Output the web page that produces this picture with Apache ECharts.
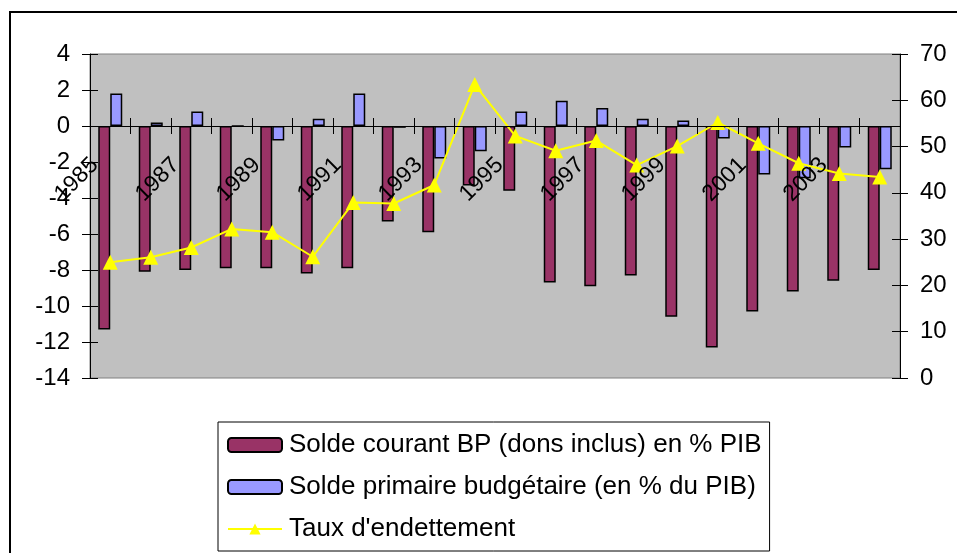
<!DOCTYPE html>
<html>
<head>
<meta charset="utf-8">
<title>Solde courant, solde primaire et taux d'endettement</title>
<script src="https://cdn.jsdelivr.net/npm/echarts@6/dist/echarts.min.js"></script>
<style>
  html, body { margin: 0; padding: 0; background: #fff; }
  #main { width: 957px; height: 553px; }
</style>
</head>
<body>
<div id="main"></div>
<script>
let years = ["1985", "1986", "1987", "1988", "1989", "1990", "1991", "1992", "1993", "1994",
  "1995", "1996", "1997", "1998", "1999", "2000", "2001", "2002", "2003", "2004"];
let soldeCourant = [-11.3, -8.1, -8.0, -7.9, -7.9, -8.2, -7.9, -5.3, -5.9, -3.3,
  -3.6, -8.7, -8.9, -8.3, -10.6, -12.3, -10.3, -9.2, -8.6, -8.0];
let soldePrimaire = [1.8, 0.2, 0.8, 0, -0.8, 0.4, 1.8, -0.1, -1.8, -1.4,
  0.8, 1.4, 1.0, 0.4, 0.3, -0.7, -2.7, -2.9, -1.2, -2.4];
let tauxEndettement = [25.0, 26.1, 28.2, 32.2, 31.5, 26.2, 37.9, 37.7, 41.7, 63.4,
  52.3, 49.1, 51.3, 46.0, 50.1, 55.2, 50.7, 46.4, 44.2, 43.4];
let seriesNames = ["Solde courant BP (dons inclus) en % PIB", "Solde primaire budgétaire (en % du PIB)", "Taux d'endettement"];

let font = "'Liberation Sans', Arial, sans-serif";
let chart = echarts.init(document.getElementById("main"));

// ticks cross the axis line, so each axis gets a twin that draws the other half
function tickAxis(position, inside) {
  return {
    axisLine: { show: false },
    axisTick: { show: true, inside: inside, length: 8, lineStyle: { color: "#000" } },
    axisLabel: { show: false },
    splitLine: { show: false },
    position: position
  };
}

let option = {
  animation: false,
  textStyle: { fontFamily: font, color: "#000" },
  graphic: [
    {
      type: "rect",
      shape: { x: 10, y: 12, width: 1000, height: 600 },
      style: { fill: "none", stroke: "#000", lineWidth: 2 },
      silent: true
    }
  ],
  grid: {
    left: 90,
    right: 57,
    top: 54,
    bottom: 175,
    show: true,
    backgroundColor: "#C0C0C0",
    borderColor: "#808080",
    borderWidth: 1
  },
  legend: {
    orient: "vertical",
    left: 218,
    top: 422,
    padding: [10, 8, 9, 9],
    itemGap: 16,
    itemWidth: 54,
    itemHeight: 14,
    borderColor: "#000",
    borderWidth: 1,
    data: seriesNames,
    textStyle: { fontSize: 26, fontFamily: font, color: "#000", padding: [0, 0, 0, 2] }
  },
  xAxis: [
    {
      // year labels sit just under the zero line, over the bars
      type: "category",
      data: years,
      z: 10,
      axisLine: { show: false, onZero: false },
      axisTick: { show: false },
      axisLabel: {
        interval: 1,
        rotate: 45,
        fontSize: 23,
        fontFamily: font,
        color: "#000",
        margin: -232,
        padding: [0, 22, 0, 0]
      },
      splitLine: { show: false }
    },
    {
      type: "category",
      data: years,
      position: "top",
      z: 10,
      axisLine: { onZero: true, onZeroAxisIndex: 0, show: true, lineStyle: { color: "#000" } },
      axisTick: { show: true, interval: 0, length: 8, lineStyle: { color: "#000" } },
      axisLabel: { show: false },
      splitLine: { show: false }
    },
    {
      type: "category",
      data: years,
      position: "bottom",
      z: 10,
      axisLine: { onZero: true, onZeroAxisIndex: 0, show: true, lineStyle: { color: "#000" } },
      axisTick: { show: true, interval: 0, length: 8, lineStyle: { color: "#000" } },
      axisLabel: { show: false },
      splitLine: { show: false }
    }
  ],
  yAxis: [
    {
      type: "value",
      min: -14,
      max: 4,
      interval: 2,
      position: "left",
      axisLine: { show: true, lineStyle: { color: "#000" } },
      axisTick: { show: true, length: 8, lineStyle: { color: "#000" } },
      axisLabel: { fontSize: 24, fontFamily: font, color: "#000", margin: 20 },
      splitLine: { show: false }
    },
    {
      type: "value",
      min: 0,
      max: 70,
      interval: 10,
      position: "right",
      axisLine: { show: true, lineStyle: { color: "#000" } },
      axisTick: { show: true, length: 8, lineStyle: { color: "#000" } },
      axisLabel: { fontSize: 24, fontFamily: font, color: "#000", margin: 20 },
      splitLine: { show: false }
    },
    Object.assign({ type: "value", min: -14, max: 4, interval: 2 }, tickAxis("left", true)),
    Object.assign({ type: "value", min: 0, max: 70, interval: 10 }, tickAxis("right", true))
  ],
  series: [
    {
      name: seriesNames[0],
      type: "bar",
      xAxisIndex: 0,
      yAxisIndex: 0,
      barWidth: 12,
      barGap: "0%",
      itemStyle: { color: "#993366", borderColor: "#000", borderWidth: 1.5 },
      data: soldeCourant
    },
    {
      name: seriesNames[1],
      type: "bar",
      xAxisIndex: 0,
      yAxisIndex: 0,
      barWidth: 12,
      barGap: "0%",
      itemStyle: { color: "#9999FF", borderColor: "#000", borderWidth: 1.5 },
      data: soldePrimaire
    },
    {
      name: seriesNames[2],
      type: "line",
      xAxisIndex: 0,
      yAxisIndex: 1,
      z: 5,
      symbol: "triangle",
      symbolSize: 15,
      lineStyle: { color: "#FFFF00", width: 2 },
      itemStyle: { color: "#FFFF00" },
      data: tauxEndettement
    }
  ]
};

chart.setOption(option);
</script>
</body>
</html>
